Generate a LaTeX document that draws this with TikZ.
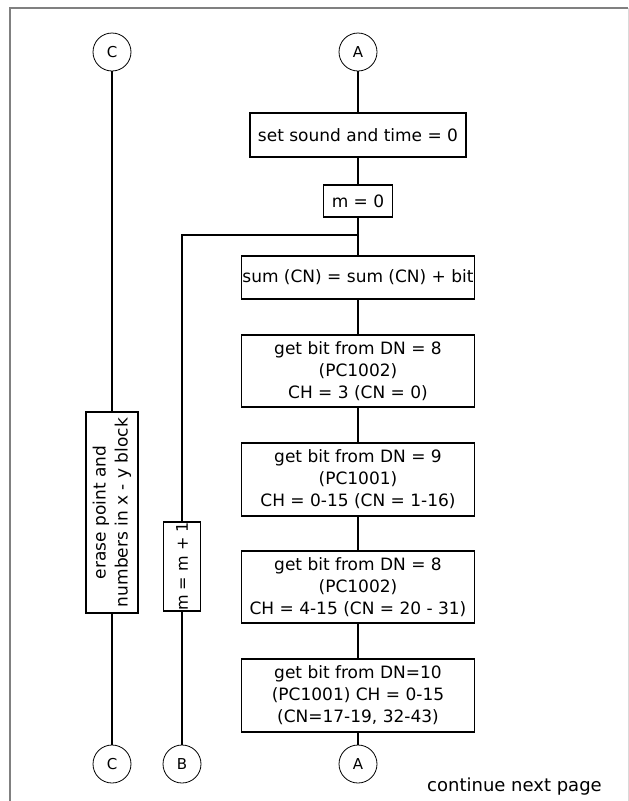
\documentclass[tikz,border=0pt]{standalone}
\usepackage{fontspec}
\setmainfont{DejaVu Sans}
\begin{document}
\begin{tikzpicture}[x=1pt,y=-1pt,
  conline/.style={line width=1.1pt},
  box/.style={draw, line width=1.1pt, inner sep=0pt, align=center, font=\fontsize{17}{22}\selectfont},
  conn/.style={draw, circle, line width=0.8pt, minimum size=38pt, inner sep=0pt, font=\fontsize{15}{18}\selectfont},
  note/.style={inner sep=0pt, font=\fontsize{18}{22}\selectfont}]
\useasboundingbox (0,0) rectangle (629,801);
\fill[white] (0,0) rectangle (629,801);
% frame
\draw[black!50, line width=1.6pt] (10,801) -- (10,8) -- (628,8);
\draw[black!15, line width=1pt] (628,8) -- (628,801);
% connectors (circles)
\node[conn] (At) at (358,52) {A};
\node[conn] (Ct) at (112,52) {C};
\node[conn] (Ab) at (358,764) {A};
\node[conn] (Bb) at (182,764) {B};
\node[conn] (Cb) at (112,764) {C};
% main column
\node[box, minimum width=216pt, minimum height=44pt] (b1) at (358,135) {set sound and time = 0};
\node[box, minimum width=69pt, minimum height=32pt] (m0) at (358,201) {m = 0};
\coordinate (J) at (358,235);
\node[box, minimum width=233pt, minimum height=43pt] (sum) at (358,277.5) {sum (CN) = sum (CN) + bit};
\node[box, minimum width=233pt, minimum height=72pt] (g1) at (358,371) {get bit from DN = 8\\(PC1002)\\CH = 3 (CN = 0)};
\node[box, minimum width=233pt, minimum height=73pt] (g2) at (358,479.5) {get bit from DN = 9\\(PC1001)\\CH = 0-15 (CN = 1-16)};
\node[box, minimum width=233pt, minimum height=72pt] (g3) at (358,587) {get bit from DN = 8\\(PC1002)\\CH = 4-15 (CN = 20 - 31)};
\node[box, minimum width=233pt, minimum height=73pt] (g4) at (358,695.5) {get bit from DN=10\\(PC1001) CH = 0-15\\(CN=17-19, 32-43)};
% side boxes
\node[box, rotate=90, minimum width=201pt, minimum height=52pt] (er) at (112,512.5) {erase point and\\numbers in x - y block};
\node[box, rotate=90, minimum width=89pt, minimum height=37pt, font=\fontsize{16}{20}\selectfont] (mm) at (182,566.5) {m = m + 1};
% note
\node[note, anchor=west] (cont) at (427,787) {continue next page};
% lines
\draw[conline] (At) -- (b1);
\draw[conline] (b1) -- (m0);
\draw[conline] (m0) -- (sum);
\draw[conline] (sum) -- (g1);
\draw[conline] (g1) -- (g2);
\draw[conline] (g2) -- (g3);
\draw[conline] (g3) -- (g4);
\draw[conline] (g4) -- (Ab);
\draw[conline] (J) -| (mm);
\draw[conline] (mm) -- (Bb);
\draw[conline] (Ct) -- (er);
\draw[conline] (er) -- (Cb);
\end{tikzpicture}
\end{document}
